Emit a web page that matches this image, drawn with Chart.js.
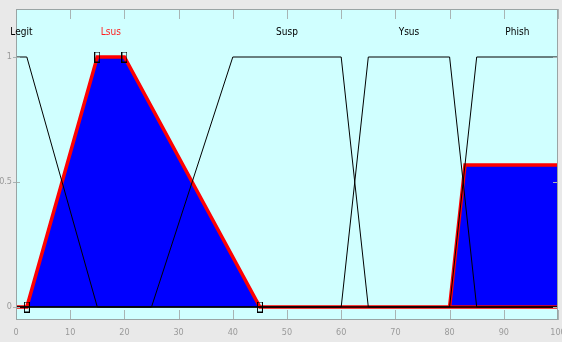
<!DOCTYPE html>
<html>
<head>
<meta charset="utf-8">
<script src="https://cdn.jsdelivr.net/npm/chart.js@4/dist/chart.umd.min.js"></script>
<style>
  html, body { margin: 0; padding: 0; background: #e9e9e9; }
  canvas { display: block; }
</style>
</head>
<body>
<canvas id="mfChart" width="562" height="342"></canvas>
<script>
// Membership functions (x = input range 0..100)
const mfNames = ['Legit', 'Lsus', 'Susp', 'Ysus', 'Phish'];
const legitX = [0, 2, 15, 100];
const legitY = [1, 1, 0, 0];
const lsusX = [0, 2, 15, 20, 45, 100];
const lsusY = [0, 0, 1, 1, 0, 0];
const suspX = [0, 25, 40, 60, 65, 100];
const suspY = [0, 0, 1, 1, 0, 0];
const ysusX = [0, 60, 65, 80, 85, 100];
const ysusY = [0, 0, 1, 1, 0, 0];
const phishX = [0, 80, 85, 100];
const phishY = [0, 0, 1, 1];
// clipped Phish output area
const phishCutX = [80, 82.84, 100];
const phishCutY = [0, 0.568, 0.568];

const xTicks = [0, 10, 20, 30, 40, 50, 60, 70, 80, 90, 100];
const yTicks = [0, 0.5, 1];
const yTickLabels = ['0', '0.5', '1'];

const pts = (xs, ys) => xs.map((x, i) => ({ x: x, y: ys[i] }));

// label positions: middle of each MF's core
const mfCores = [legitX, lsusX, suspX, ysusX, phishX].map((xs, i) => {
  const ys = [legitY, lsusY, suspY, ysusY, phishY][i];
  const top = xs.filter((x, j) => ys[j] === 1);
  return (Math.min(...top) + Math.max(...top)) / 2;
});

const tickFont = '"Liberation Sans Narrow", "DejaVu Sans Condensed", "Liberation Sans", sans-serif';

// small hollow rectangle marker
const marker = document.createElement('canvas');
marker.width = 6;
marker.height = 11;
const mctx = marker.getContext('2d');
mctx.strokeStyle = '#000';
mctx.lineWidth = 1;
mctx.strokeRect(0.5, 0.5, 5, 10);

const bgPlugin = {
  id: 'bg',
  beforeDraw(chart) {
    const { ctx, chartArea: a } = chart;
    ctx.save();
    ctx.fillStyle = '#e9e9e9';
    ctx.fillRect(0, 0, chart.width, chart.height);
    ctx.fillStyle = '#d0ffff';
    ctx.fillRect(a.left, a.top, a.right - a.left, a.bottom - a.top);
    ctx.restore();
  },
  afterDatasetsDraw(chart) {
    const { ctx, chartArea: a, scales } = chart;
    ctx.save();
    // inner tick marks
    ctx.strokeStyle = '#a8b4b4';
    ctx.lineWidth = 1;
    ctx.beginPath();
    xTicks.forEach(v => {
      const px = Math.round(scales.x.getPixelForValue(v)) + 0.5;
      ctx.moveTo(px, a.bottom); ctx.lineTo(px, a.bottom - 10);
      ctx.moveTo(px, a.top); ctx.lineTo(px, a.top + 10);
    });
    yTicks.forEach(v => {
      const py = Math.round(scales.y.getPixelForValue(v)) + 0.5;
      ctx.moveTo(a.left - 3, py); ctx.lineTo(a.left + 4, py);
      ctx.moveTo(a.right, py); ctx.lineTo(a.right - 5, py);
    });
    ctx.stroke();
    // frame
    ctx.strokeStyle = '#9aa4a4';
    ctx.strokeRect(a.left + 0.5, a.top + 0.5, a.right - a.left - 1, a.bottom - a.top - 1);
    // x tick labels
    ctx.font = '9px ' + tickFont;
    ctx.fillStyle = '#9a9a9a';
    ctx.textAlign = 'center';
    ctx.textBaseline = 'middle';
    xTicks.forEach(v => {
      ctx.fillText(String(v), scales.x.getPixelForValue(v), a.bottom + 13);
    });
    // MF names
    ctx.font = '10px ' + tickFont;
    mfNames.forEach((name, i) => {
      ctx.fillStyle = name === 'Lsus' ? '#ff2020' : '#000';
      ctx.fillText(name, scales.x.getPixelForValue(mfCores[i]), scales.y.getPixelForValue(1.1));
    });
    ctx.restore();
  }
};

const lineSet = (data, color, width, order) => ({
  data: data,
  borderColor: color,
  borderWidth: width,
  pointRadius: 0,
  fill: false,
  tension: 0,
  order: order
});

new Chart(document.getElementById('mfChart').getContext('2d'), {
  type: 'line',
  data: {
    datasets: [
      {
        data: pts(lsusX, lsusY).slice(1, 5),
        showLine: false,
        pointStyle: marker,
        pointRadius: 5,
        order: 0
      },
      lineSet(pts(legitX, legitY), '#000', 1, 1),
      lineSet(pts(suspX, suspY), '#000', 1, 1),
      lineSet(pts(ysusX, ysusY), '#000', 1, 1),
      lineSet(pts(phishX, phishY), '#000', 1, 1),
      lineSet(pts(lsusX, lsusY), '#ff0000', 3.5, 2),
      lineSet(pts(phishCutX, phishCutY), '#ff0000', 3.5, 2),
      {
        data: pts(lsusX, lsusY),
        borderWidth: 0,
        pointRadius: 0,
        backgroundColor: '#0000ff',
        fill: 'origin',
        order: 3
      },
      {
        data: pts(phishCutX, phishCutY),
        borderWidth: 0,
        pointRadius: 0,
        backgroundColor: '#0000ff',
        fill: 'origin',
        order: 3
      }
    ]
  },
  options: {
    responsive: false,
    animation: false,
    layout: { autoPadding: false, padding: { top: 9, right: 4, left: 0, bottom: 0 } },
    plugins: { legend: { display: false }, tooltip: { enabled: false } },
    scales: {
      x: {
        type: 'linear',
        min: 0,
        max: 100,
        grid: { display: false, drawTicks: false },
        border: { display: false },
        afterFit: axis => { axis.height = 22; axis.paddingLeft = 0; axis.paddingRight = 0; },
        ticks: { display: false }
      },
      y: {
        min: -0.052,
        max: 1.192,
        grid: { display: false, drawTicks: false },
        border: { display: false },
        afterBuildTicks: axis => { axis.ticks = yTicks.map(v => ({ value: v })); },
        afterFit: axis => { axis.width = 16; axis.paddingTop = 0; axis.paddingBottom = 0; },
        ticks: {
          padding: 4,
          color: '#9a9a9a',
          callback: (v, i) => yTickLabels[i],
          font: { family: tickFont, size: 9 }
        }
      }
    }
  },
  plugins: [bgPlugin]
});
</script>
</body>
</html>
